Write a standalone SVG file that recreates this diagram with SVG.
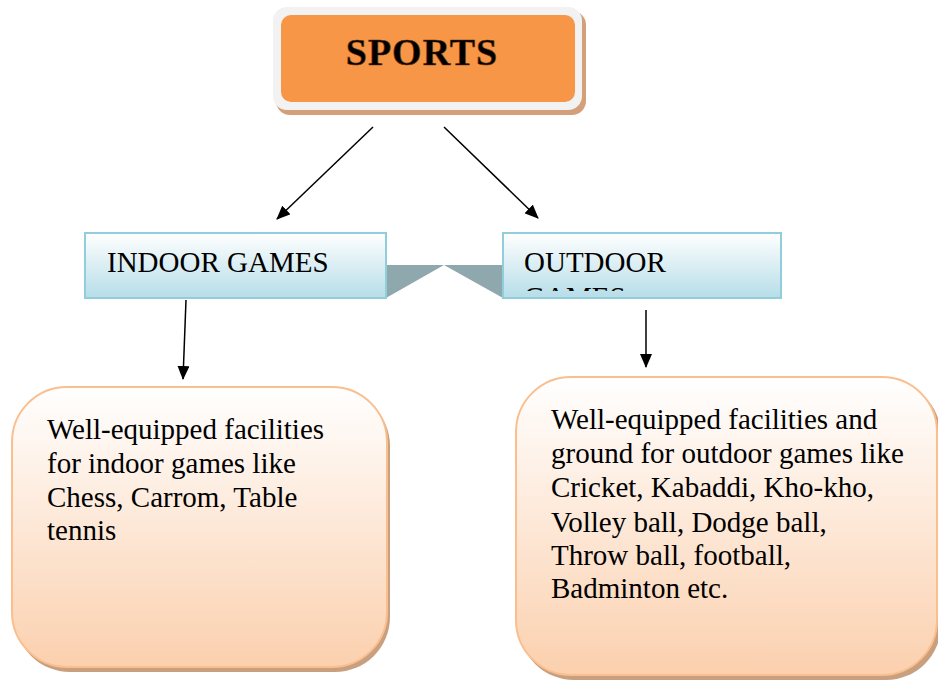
<svg xmlns="http://www.w3.org/2000/svg" width="938" height="680" viewBox="0 0 938 680">
<defs>
<linearGradient id="blueG" x1="0" y1="0" x2="0" y2="1">
<stop offset="0" stop-color="#ffffff"/>
<stop offset="1" stop-color="#b6dde8"/>
</linearGradient>
<linearGradient id="peachG" x1="0" y1="0" x2="0" y2="1">
<stop offset="0" stop-color="#ffffff"/>
<stop offset="1" stop-color="#fbd0ae"/>
</linearGradient>
<marker id="ah" viewBox="0 0 14 12" refX="13" refY="6" markerWidth="14" markerHeight="12" markerUnits="userSpaceOnUse" orient="auto">
<path d="M0,0 L14,6 L0,12 Z" fill="#000"/>
</marker>
<clipPath id="outClip"><rect x="503" y="233" width="278" height="58"/></clipPath>
</defs>
<style>
.lbl{font-family:"Liberation Serif","Times New Roman",serif;font-size:29px;fill:#000}
.blue{fill:url(#blueG);stroke:#92cddc;stroke-width:2}
.peach{fill:url(#peachG);stroke:#fabf8f;stroke-width:2}
.shadow{fill:#c9a07f}
.conn{stroke:#000;stroke-width:1.5;fill:none;marker-end:url(#ah)}
</style>
<rect width="938" height="680" fill="#fff"/>

<g id="sports">
<rect x="276" y="11" width="310" height="104" rx="14" fill="#d3a07a"/>
<rect x="273" y="7" width="309" height="103" rx="14" fill="#f2f2f2"/>
<rect x="281" y="15" width="294" height="87" rx="10" fill="#f79646"/>
<text x="422" y="65" text-anchor="middle" font-family="Liberation Serif, serif" font-weight="bold" font-size="38" letter-spacing="1" fill="#000" stroke="#6b3510" stroke-width="0.6">SPORTS</text>
</g>

<g id="bridge">
<path d="M386,265 L503,265 L503,298 L444,265 L386,298 Z" fill="#8ea8ae"/>
</g>

<g id="indoor">
<rect class="blue" x="85" y="233" width="301" height="65"/>
<text class="lbl" x="107" y="272">INDOOR GAMES</text>
</g>

<g id="outdoor">
<rect class="blue" x="503" y="233" width="278" height="65"/>
<g clip-path="url(#outClip)">
<text class="lbl" x="524" y="272">OUTDOOR</text>
<text class="lbl" x="524" y="307">GAMES</text>
</g>
</g>

<g id="indoorDetail">
<rect class="shadow" x="15" y="391" width="375" height="281" rx="55"/>
<rect class="peach" x="12" y="387" width="375" height="280" rx="55"/>
<text class="lbl" x="47" y="439">Well-equipped facilities</text>
<text class="lbl" x="47" y="473">for indoor games like</text>
<text class="lbl" x="47" y="507">Chess, Carrom, Table</text>
<text class="lbl" x="47" y="540">tennis</text>
</g>

<g id="outdoorDetail">
<rect class="shadow" x="519" y="381" width="422" height="299" rx="55"/>
<rect class="peach" x="516" y="377" width="421" height="298" rx="55"/>
<text class="lbl" x="551" y="429">Well-equipped facilities and</text>
<text class="lbl" x="551" y="463">ground for outdoor games like</text>
<text class="lbl" x="551" y="497">Cricket, Kabaddi, Kho-kho,</text>
<text class="lbl" x="551" y="532">Volley ball, Dodge ball,</text>
<text class="lbl" x="551" y="565">Throw ball, football,</text>
<text class="lbl" x="551" y="598">Badminton etc.</text>
</g>

<g id="connectors">
<line class="conn" x1="373" y1="127" x2="277" y2="219"/>
<line class="conn" x1="444" y1="127" x2="538" y2="218"/>
<line class="conn" x1="186" y1="300" x2="183" y2="379"/>
<line class="conn" x1="646" y1="310" x2="646" y2="367"/>
</g>
</svg>
